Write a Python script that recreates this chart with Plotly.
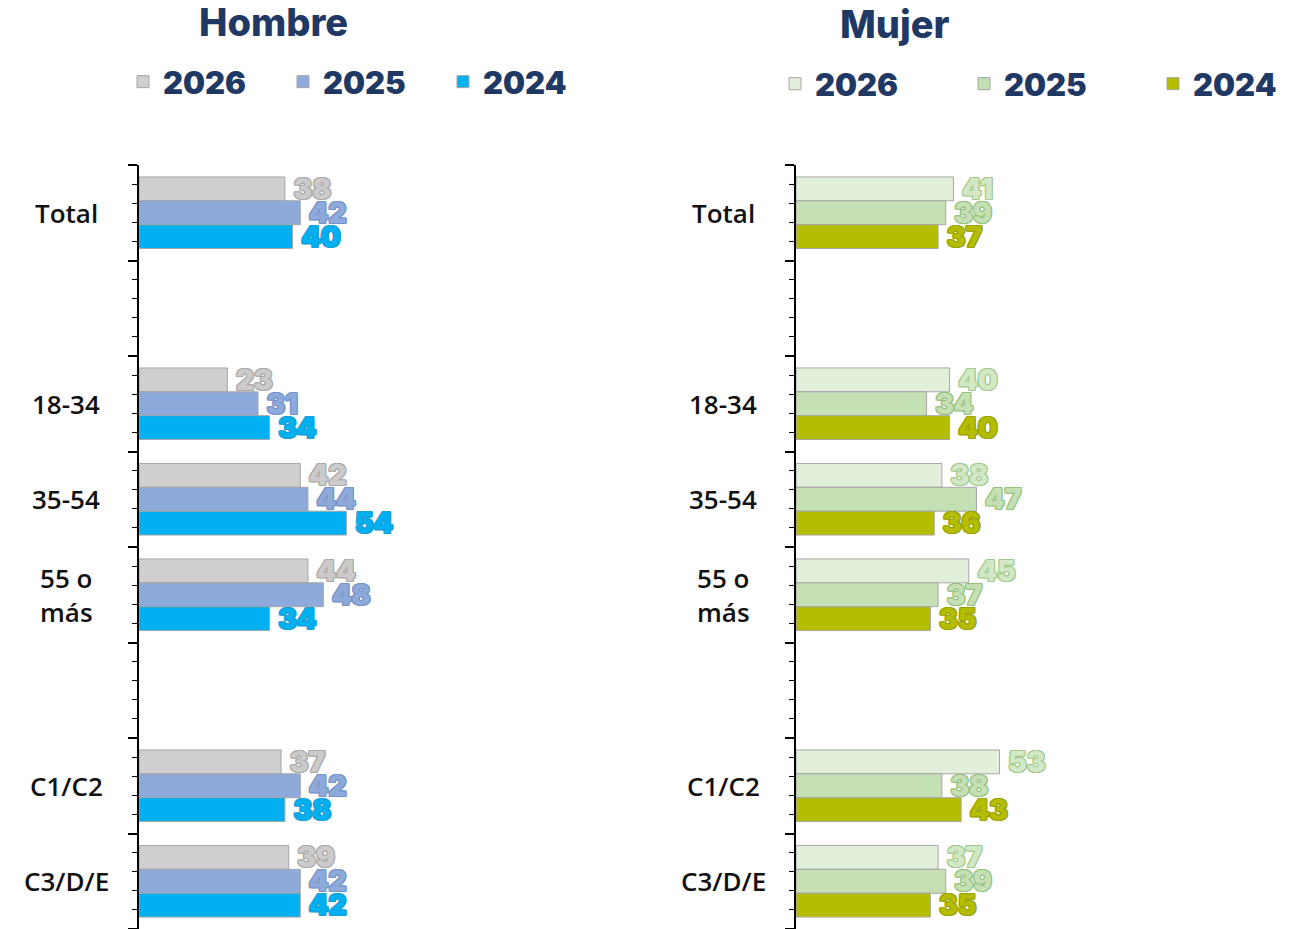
import plotly.graph_objects as go
from plotly.subplots import make_subplots

categories = ["Total", "", "18-34", "35-54", "55 o<br>más", "", "C1/C2", "C3/D/E"]
years = ["2026", "2025", "2024"]

hombre_2026 = [38, None, 23, 42, 44, None, 37, 39]
hombre_2025 = [42, None, 31, 44, 48, None, 42, 42]
hombre_2024 = [40, None, 34, 54, 34, None, 38, 42]

mujer_2026 = [41, None, 40, 38, 45, None, 53, 37]
mujer_2025 = [39, None, 34, 47, 37, None, 38, 39]
mujer_2024 = [37, None, 40, 36, 35, None, 43, 35]

hombre_colors = ["#d0cece", "#8eaadb", "#00b0f0"]
hombre_text = [("#cccaca", "#aaaaaa"), ("#8eaadb", "#7693c9"), ("#00b0f0", "#1a9ed4")]
mujer_colors = ["#e2efda", "#c5e0b4", "#b4bd00"]
mujer_text = [("#d3e8c6", "#a3cb8c"), ("#c5e0b4", "#96c27e"), ("#b4bd00", "#9aa200")]

NAVY = "#1f3864"
OFF = 8                      # page body margin
W, H = 1296 - OFF, 929 - OFF
TOP = 165 - OFF
ypos = list(range(len(categories)))


def px_x(p):
    return (p - OFF) / W


def px_y(p):
    return (H - (p - OFF)) / (H - TOP)


def outline(c):
    return ", ".join(f"{dx}px {dy}px 0 {c}" for dx in (-1, 0, 1) for dy in (-1, 0, 1) if dx or dy)


fig = make_subplots(rows=1, cols=2)

panels = [
    ([hombre_2026, hombre_2025, hombre_2024], hombre_colors, hombre_text, 1, "legend"),
    ([mujer_2026, mujer_2025, mujer_2024], mujer_colors, mujer_text, 2, "legend2"),
]
for series, colors, tcols, col, leg in panels:
    for yr, vals, c, (tfill, tline) in zip(years, series, colors, tcols):
        fig.add_trace(
            go.Bar(
                x=vals, y=ypos, orientation="h", name=yr, legend=leg,
                marker=dict(color=c, line=dict(color="#a6a6a6", width=1)),
                text=[f" {v}" if v is not None else "" for v in vals],
                textposition="outside", constraintext="none", cliponaxis=False,
                textfont=dict(family="Inter", size=28, weight=900, color=tfill,
                              shadow=outline(tline)),
                hoverinfo="skip",
            ),
            row=1, col=col,
        )

xr = 120
pw = xr * 3.84
fig.update_xaxes(range=[0, xr], visible=False)
fig.update_layout(
    xaxis=dict(domain=[px_x(139), px_x(139 + pw)]),
    xaxis2=dict(domain=[px_x(796), px_x(796 + pw)]),
)
fig.update_yaxes(
    range=[len(categories) - 0.5, -0.5], showticklabels=False, showgrid=False,
    zeroline=False, showline=True, linecolor="#000000", linewidth=1.5,
    ticks="outside", tick0=0.5, dtick=1, ticklen=9, tickcolor="#000000", tickwidth=1.5,
    minor=dict(ticks="outside", dtick=0.2, tick0=0.5, ticklen=5, tickcolor="#000000", tickwidth=1.2),
)

ann = []
for i, cat in enumerate(categories):
    if not cat:
        continue
    for xc, yref in ((66, "y"), (723, "y2")):
        ann.append(dict(x=px_x(xc), xref="paper", y=i, yref=yref, text=cat, showarrow=False,
                        xanchor="center", yanchor="middle", align="center",
                        font=dict(family="Open Sans", size=26, weight=600, color="#111111")))
for title, xc, yc in (("Hombre", 273, 22), ("Mujer", 895, 24)):
    ann.append(dict(x=px_x(xc), xref="paper", y=px_y(yc), yref="paper",
                    text=title, showarrow=False, xanchor="center", yanchor="middle",
                    font=dict(family="Inter", size=38, weight=800, color=NAVY)))

leg_font = dict(family="Inter", size=31, weight=900, color=NAVY)
fig.update_layout(
    width=W, height=H, template="plotly_white",
    paper_bgcolor="white", plot_bgcolor="white",
    margin=dict(l=0, r=0, t=TOP, b=0, autoexpand=False),
    barmode="group", bargap=0.25, bargroupgap=0,
    annotations=ann,
    legend=dict(orientation="h", x=px_x(123), xanchor="left", y=px_y(82),
                yanchor="middle", entrywidth=115, entrywidthmode="pixels",
                font=leg_font, bgcolor="rgba(0,0,0,0)"),
    legend2=dict(orientation="h", x=px_x(775), xanchor="left", y=px_y(84),
                 yanchor="middle", entrywidth=144, entrywidthmode="pixels",
                 font=leg_font, bgcolor="rgba(0,0,0,0)"),
)

fig.write_html("out.html")
